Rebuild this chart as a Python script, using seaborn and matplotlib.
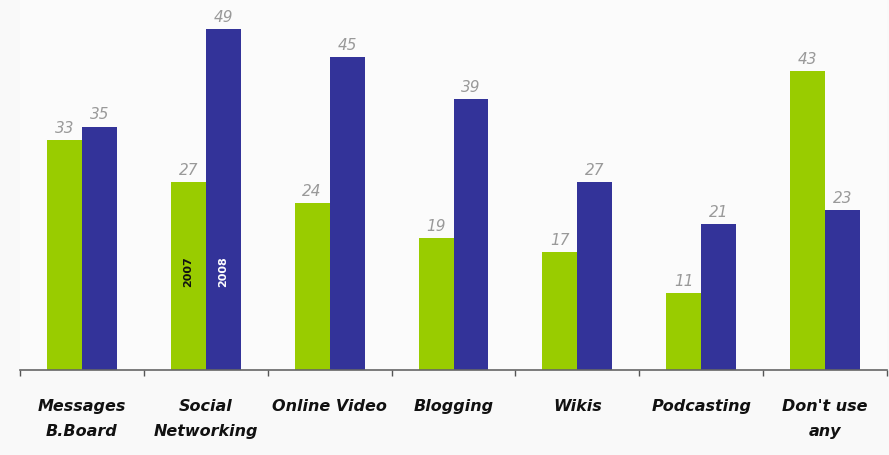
import numpy as np
import pandas as pd
import matplotlib
matplotlib.use("Agg")
import matplotlib.pyplot as plt
import seaborn as sns

categories = ["Messages\nB.Board", "Social\nNetworking", "Online Video", "Blogging",
              "Wikis", "Podcasting", "Don't use\nany"]
years = ["2007", "2008"]
values_2007 = [33, 27, 24, 19, 17, 11, 43]
values_2008 = [35, 49, 45, 39, 27, 21, 23]

df = pd.DataFrame({
    "category": categories * 2,
    "year": ["2007"] * len(categories) + ["2008"] * len(categories),
    "value": values_2007 + values_2008,
})

sns.set_style("white")
plt.rcParams["font.family"] = ["DejaVu Sans"]

fig = plt.figure(figsize=(8.89, 4.55), dpi=100, facecolor="#f9f9f9")
ax = fig.add_axes([20 / 889, 85 / 455, 867 / 889, 370 / 455])
ax.set_facecolor("#fbfbfb")

sns.barplot(data=df, x="category", y="value", hue="year", order=categories,
            hue_order=years, palette=["#99cc00", "#333399"], width=0.565,
            gap=0, saturation=1, legend=False, ax=ax, linewidth=0)

for cont in ax.containers:
    ax.bar_label(cont, labels=[f"{v:.0f}" for v in cont.datavalues], padding=3,
                 fontsize=11, style="italic", color="#999999")

# year labels inside the Social Networking bars
sn = categories.index("Social\nNetworking")
for cont, yr, col in zip(ax.containers, years, ["#111111", "white"]):
    bar = cont[sn]
    ax.text(bar.get_x() + bar.get_width() / 2, 14.2, yr, rotation=90, ha="center",
            va="center", fontsize=8, fontweight="bold", color=col)

ax.set_xlim(-0.5, len(categories) - 0.5)
ax.set_ylim(0, 53.2)
ax.set_xlabel("")
ax.set_ylabel("")
ax.set_yticks([])
ax.set_xticks(range(len(categories)))
ax.set_xticklabels(categories, fontsize=11.5, fontweight="bold", style="italic",
                   color="#111111", linespacing=1.85, va="top")
ax.set_xticks(np.arange(-0.5, len(categories)), minor=True)
ax.tick_params(axis="x", which="major", length=0, pad=21)
ax.tick_params(axis="x", which="minor", bottom=True, length=4, width=1,
               color="#555555", direction="out")

for s in ["top", "right", "left"]:
    ax.spines[s].set_visible(False)
ax.spines["bottom"].set_color("#666666")
ax.spines["bottom"].set_linewidth(1.2)

fig.savefig("out.png", dpi=100, facecolor=fig.get_facecolor())
